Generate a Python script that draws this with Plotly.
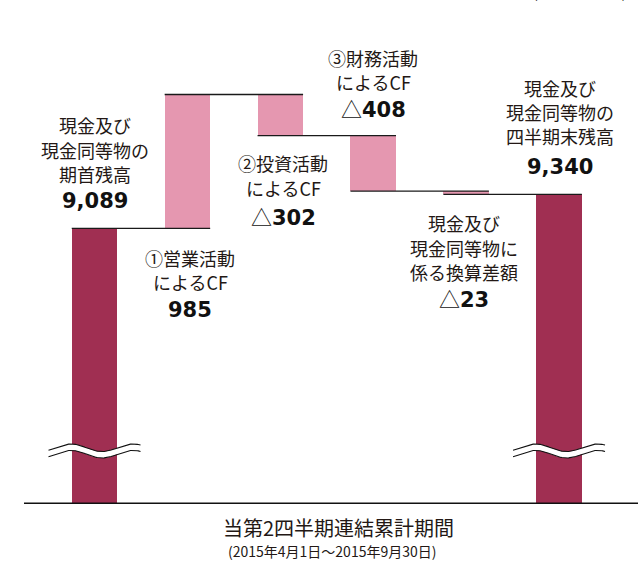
import numpy as np
import plotly.graph_objects as go

# ---- data ----
categories = ["期首残高", "営業活動によるCF", "投資活動によるCF", "財務活動によるCF", "換算差額", "四半期末残高"]
opening_balance = 9089
changes = [985, -302, -408, -23]
closing_balance = 9340
value_labels = ["9,089", "985", "△302", "△408", "△23", "9,340"]
label_texts = [
    ["現金及び", "現金同等物の", "期首残高"],
    ["①営業活動", "によるCF"],
    ["②投資活動", "によるCF"],
    ["③財務活動", "によるCF"],
    ["現金及び", "現金同等物に", "係る換算差額"],
    ["現金及び", "現金同等物の", "四半期末残高"],
]
x_title = "当第2四半期連結累計期間"
x_subtitle = "(2015年4月1日～2015年9月30日)"
unit_label = "(単位：百万円)"

# ---- layout constants ----
W, H = 638, 563
ML, MR, MT, MB = 24, 0, 0, 59
PLOT_H = H - MT - MB
Y_MIN, Y_MAX = 7063, 10769
X_MIN, X_MAX = -0.759, 5.85
BAR_W = 0.49
DARK = "#A02F52"
PINK = "#E597B0"
JP_FONT = "Noto Sans CJK JP"
NUM_FONT = "DejaVu Sans"
TXT = "#231815"

def px_to_val(py):
    return Y_MAX - (py - MT) * (Y_MAX - Y_MIN) / PLOT_H

px_per_x = (W - ML - MR) / (X_MAX - X_MIN)

# cumulative levels
levels = [opening_balance]
for c in changes:
    levels.append(levels[-1] + c)

bases, heights, colors = [], [], []
bases.append(Y_MIN); heights.append(opening_balance - Y_MIN); colors.append(DARK)
for i, c in enumerate(changes):
    lo = min(levels[i], levels[i + 1])
    bases.append(lo); heights.append(abs(c)); colors.append(PINK)
bases.append(Y_MIN); heights.append(closing_balance - Y_MIN); colors.append(DARK)

xs = list(range(len(categories)))

fig = go.Figure()
fig.add_trace(go.Bar(x=xs, y=heights, base=bases, width=BAR_W,
                     marker=dict(color=colors, line=dict(width=0)),
                     hovertext=categories, showlegend=False))

shapes = []
# connectors: from left edge of bar i to right edge of bar i+1 at level after bar i
for i in range(len(categories) - 1):
    lvl = closing_balance if i == len(categories) - 2 else levels[i]
    shapes.append(dict(type="line", xref="x", yref="y",
                       x0=i - BAR_W / 2, x1=i + 1 + BAR_W / 2, y0=lvl, y1=lvl,
                       line=dict(color="#1a1a1a", width=1.3), layer="above"))
# baseline
shapes.append(dict(type="line", xref="paper", yref="y", x0=0, x1=1, y0=Y_MIN, y1=Y_MIN,
                   line=dict(color="#111", width=3)))
fig.update_layout(shapes=shapes)

# break marks (wavy white bands)
def wave(center_idx, cy_px):
    span_px = 46
    t = np.linspace(-span_px, span_px, 120)
    amp, half = 3.8, 3.2
    period = 62.0
    off = amp * np.sin(2 * np.pi * (t + 8) / period)
    top = cy_px - half + off
    bot = cy_px + half + off
    xx = center_idx + t / px_per_x
    xs_poly = np.concatenate([xx, xx[::-1], xx[:1]])
    ys_poly = np.concatenate([top, bot[::-1], top[:1]])
    fig.add_trace(go.Scatter(x=xs_poly, y=[px_to_val(v) for v in ys_poly], mode="none",
                             fill="toself", fillcolor="white", showlegend=False, hoverinfo="skip"))
    for edge in (top, bot):
        fig.add_trace(go.Scatter(x=xx, y=[px_to_val(v) for v in edge], mode="lines",
                                 line=dict(color="#111", width=1.1), showlegend=False, hoverinfo="skip"))

wave(0, 451)
wave(5, 451)

# label positions (pixel y of each line, then value line)
label_x = [0.0, 0.03, 0.03, 0.0, -0.02, 0.01]
label_line_y = [
    [125, 150, 174],
    [258, 282],
    [163, 188],
    [58, 82],
    [223, 248, 272],
    [88, 112, 136],
]
value_y = [201, 310, 216, 108, 298, 167]

ann = []
for i in range(len(categories)):
    for line, py in zip(label_texts[i], label_line_y[i]):
        ann.append(dict(x=xs[i] + label_x[i], y=1 - py / PLOT_H, xref="x", yref="paper",
                        text=line, showarrow=False, xanchor="center", yanchor="middle",
                        font=dict(family=JP_FONT, size=18, color=TXT)))
    txt = value_labels[i]
    if txt.startswith("△"):
        txt_html = "<span style='font-family:\"Noto Sans CJK JP\";font-weight:normal'>△</span><b>" + txt[1:] + "</b>"
    else:
        txt_html = "<b>" + txt + "</b>"
    ann.append(dict(x=xs[i] + label_x[i], y=1 - value_y[i] / PLOT_H, xref="x", yref="paper",
                    text=txt_html, showarrow=False, xanchor="center", yanchor="middle",
                    font=dict(family=NUM_FONT, size=21, color="#111")))

ann.append(dict(x=327 / W, y=-(527 - PLOT_H) / PLOT_H, xref="paper", yref="paper",
                text=x_title, showarrow=False, xanchor="center", yanchor="middle",
                font=dict(family=JP_FONT, size=20, color=TXT)))
ann.append(dict(x=320 / W, y=-(551 - PLOT_H) / PLOT_H, xref="paper", yref="paper",
                text=x_subtitle, showarrow=False, xanchor="center", yanchor="middle",
                font=dict(family=JP_FONT, size=14, color=TXT)))
ann.append(dict(x=1, y=1, xref="paper", yref="paper", text=unit_label, showarrow=False,
                xanchor="right", yanchor="bottom", xshift=-10, yshift=-4,
                font=dict(family=JP_FONT, size=14, color=TXT)))

fig.update_layout(
    width=W, height=H,
    margin=dict(l=ML, r=MR, t=MT, b=MB, pad=0),
    paper_bgcolor="white", plot_bgcolor="white",
    annotations=ann,
    bargap=0,
    xaxis=dict(range=[X_MIN, X_MAX], visible=False, fixedrange=True),
    yaxis=dict(range=[Y_MIN, Y_MAX], visible=False, fixedrange=True),
    showlegend=False,
)

fig.write_html("out.html", config={"displayModeBar": False},
               post_script="document.body.style.margin='0';document.body.style.padding='0';")
